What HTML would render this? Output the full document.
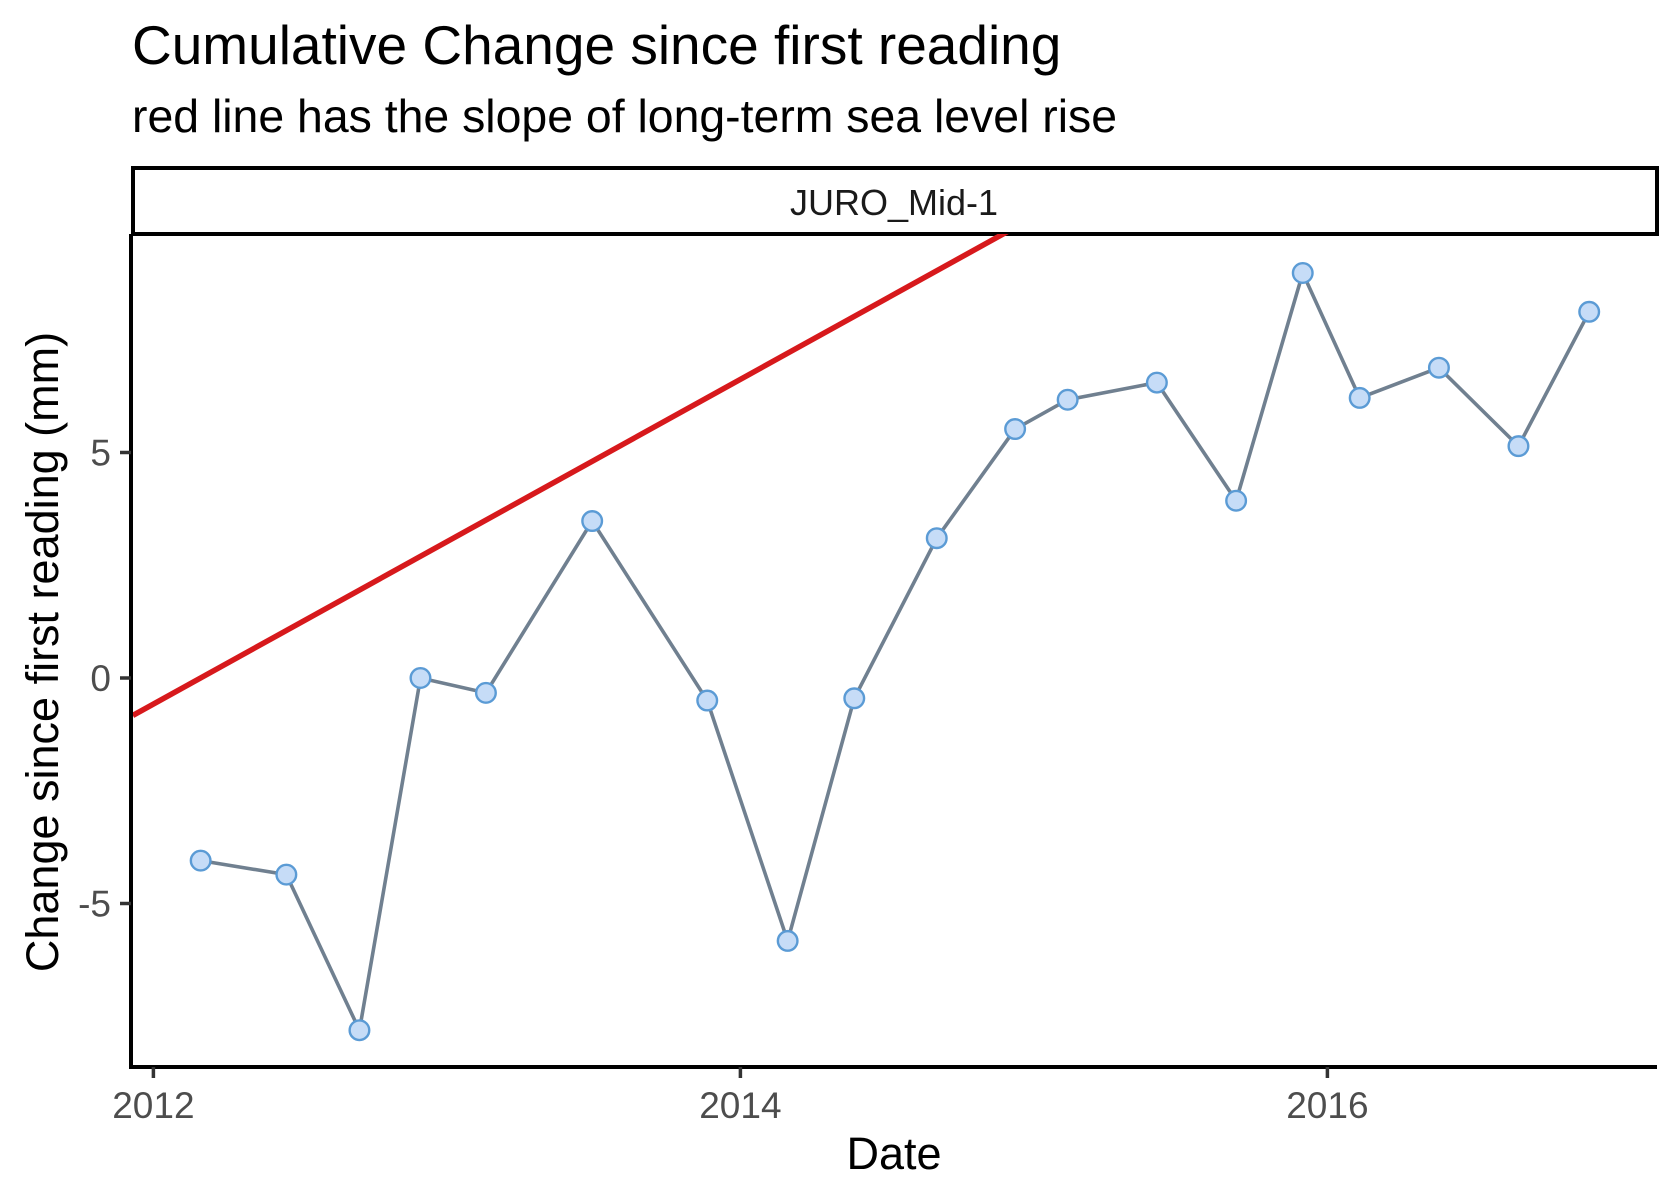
<!DOCTYPE html>
<html><head><meta charset="utf-8"><style>
html,body{margin:0;padding:0;background:#fff;}
svg{display:block;font-family:"Liberation Sans",Arial,sans-serif;}
</style></head><body>
<svg id="chart" width="1680" height="1200" viewBox="0 0 1680 1200">
<text x="132" y="64" font-size="55" fill="#000">Cumulative Change since first reading</text>
<text x="132" y="132" font-size="46.4" fill="#000">red line has the slope of long-term sea level rise</text>
<rect x="133" y="168" width="1524" height="66" fill="#fff" stroke="#000" stroke-width="4"/>
<text x="894" y="215" font-size="36" text-anchor="middle" fill="#1a1a1a">JURO_Mid-1</text>
<defs><clipPath id="pc"><rect x="131" y="234" width="1526" height="833"/></clipPath></defs>
<g id="plot"></g>
<line x1="131" y1="234" x2="131" y2="1069" stroke="#000" stroke-width="4"/>
<line x1="129" y1="1067" x2="1657" y2="1067" stroke="#000" stroke-width="4"/>
<g id="xticks"></g>
<g id="yticks"></g>
<text x="894" y="1169" font-size="45" text-anchor="middle" fill="#000">Date</text>
<text transform="translate(58,652) rotate(-90)" font-size="45" text-anchor="middle" fill="#000">Change since first reading (mm)</text>
</svg>
<script>
const dates = [2012.161,2012.453,2012.702,2012.910,2013.133,2013.495,2013.887,2014.161,2014.388,2014.669,2014.936,2015.115,2015.419,2015.689,2015.916,2016.110,2016.380,2016.651,2016.892];
const values = [-4.05,-4.36,-7.81,0,-0.33,3.48,-0.5,-5.83,-0.45,3.10,5.52,6.17,6.55,3.93,8.98,6.21,6.88,5.14,8.12];
const xTicks = [2012,2014,2016];
const yTicks = [-5,0,5];
const trendStart = [2011.93,-0.83];
const trendSlope = 3.6;
const NS='http://www.w3.org/2000/svg';
function xs(t){return 153.4+(t-2012)*293.5;}
function ys(v){return 678-v*45.1;}
function mk(tag,attrs,parent){const e=document.createElementNS(NS,tag);for(const k in attrs)e.setAttribute(k,attrs[k]);parent.appendChild(e);return e;}
const plot=document.getElementById('plot');
const g=mk('g',{'clip-path':'url(#pc)'},plot);
const t0=trendStart[0],t1=2020;
const red=mk('line',{x1:xs(t0),y1:ys(trendStart[1]),x2:xs(t1),y2:ys(trendStart[1]+trendSlope*(t1-t0)),stroke:'#d7191c','stroke-width':5.5},g);


const pl=mk('polyline',{points:dates.map((d,i)=>xs(d)+','+ys(values[i])).join(' '),fill:'none',stroke:'#708090','stroke-width':3.6},g);


dates.forEach((d,i)=>{const c=mk('circle',{cx:xs(d),cy:ys(values[i]),r:9.8,fill:'#c6dcf7',stroke:'#5b9bd5','stroke-width':2.4},g);

});
const xg=document.getElementById('xticks');
xTicks.forEach(t=>{const l=mk('line',{x1:xs(t),y1:1067,x2:xs(t),y2:1078,stroke:'#333','stroke-width':3.5},xg);


const tx=mk('text',{x:xs(t),y:1118,'font-size':37,'text-anchor':'middle',fill:'#4d4d4d'},xg);tx.textContent=t;

});
const yg=document.getElementById('yticks');
yTicks.forEach(v=>{const l=mk('line',{x1:120,y1:ys(v),x2:131,y2:ys(v),stroke:'#333','stroke-width':3.5},yg);


const tx=mk('text',{x:111,y:ys(v)+13,'font-size':37,'text-anchor':'end',fill:'#4d4d4d'},yg);tx.textContent=v;

});
</script>
</body></html>
